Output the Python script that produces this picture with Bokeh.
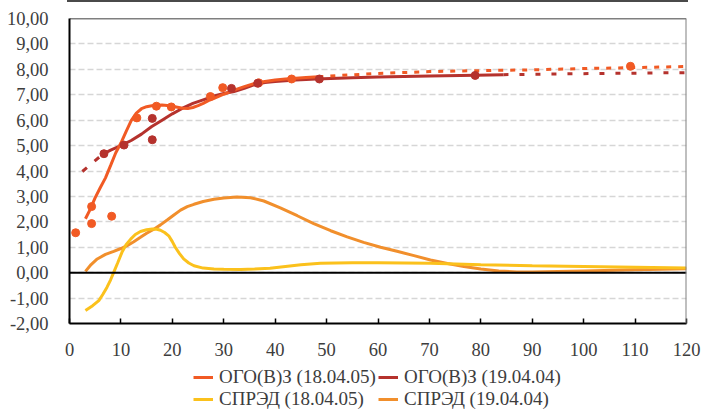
from bokeh.plotting import figure
from bokeh.models import (Span, Legend, LegendItem, FixedTicker, Div, Range1d)
from bokeh.layouts import column
from bokeh.embed import file_html
from bokeh.resources import INLINE

# ---------------- data ----------------
series_names = ["ОГО(В)З (18.04.05)", "ОГО(В)З (19.04.04)", "СПРЭД (18.04.05)", "СПРЭД (19.04.04)"]

# ОГО(В)З (18.04.05): observed points
ogo05_pts_x = [1.2, 4.3, 4.3, 8.2, 13.1, 16.9, 19.8, 27.4, 29.8, 36.8, 43.2, 109.1]
ogo05_pts_y = [1.57, 1.93, 2.6, 2.22, 6.09, 6.55, 6.52, 6.93, 7.28, 7.47, 7.62, 8.12]
# fitted curve (solid part)
ogo05_fit_x = [3.1, 4, 5, 6, 7, 8, 9, 10, 11, 12, 13, 14, 15, 16, 17, 18, 19, 20, 21, 22,
               23, 24, 25, 26, 27, 28, 30, 32, 34, 36, 38, 40, 42, 44, 46, 48.4]
ogo05_fit_y = [2.12, 2.48, 2.95, 3.35, 3.73, 4.22, 4.72, 5.1, 5.55, 5.98, 6.28, 6.45, 6.53,
               6.57, 6.59, 6.6, 6.58, 6.55, 6.51, 6.47, 6.46, 6.5, 6.57, 6.66, 6.77, 6.85,
               7.02, 7.18, 7.32, 7.45, 7.52, 7.58, 7.62, 7.65, 7.68, 7.71]
# extrapolated (dotted part)
ogo05_ext_x = [48.4, 50, 60, 70, 80, 90, 100, 110, 120]
ogo05_ext_y = [7.71, 7.73, 7.84, 7.91, 7.95, 7.98, 8.03, 8.07, 8.11]

# ОГО(В)З (19.04.04)
ogo04_pts_x = [6.7, 10.6, 16.1, 16.1, 31.5, 36.6, 48.6, 78.9]
ogo04_pts_y = [4.68, 5.02, 6.07, 5.23, 7.25, 7.45, 7.62, 7.76]
ogo04_start_x = [2.5, 6.4]
ogo04_start_y = [3.98, 4.65]
ogo04_fit_x = [6.4, 8, 10, 12, 14, 16, 18, 20, 22, 24, 26, 28, 30, 32, 34, 36, 38, 40, 44,
               48, 55, 60, 70, 79, 84.4]
ogo04_fit_y = [4.65, 4.82, 5.0, 5.2, 5.45, 5.75, 6.0, 6.25, 6.47, 6.66, 6.8, 6.94, 7.05,
               7.13, 7.25, 7.4, 7.48, 7.52, 7.58, 7.62, 7.67, 7.7, 7.74, 7.77, 7.79]
ogo04_ext_x = [84.4, 100, 120]
ogo04_ext_y = [7.79, 7.83, 7.87]

# СПРЭД (18.04.05)
spr05_x = [3.1, 4.5, 5.7, 6.5, 7.3, 8.0, 8.6, 9.4, 10.2, 11, 11.9, 12.8, 13.8, 15, 16.1, 17,
           17.7, 18.5, 19.3, 20, 20.6, 21.4, 22.2, 23.2, 24.2, 26, 28.1, 30, 33.3, 36, 39,
           42, 45, 48.8, 55, 60, 70.2, 80, 90, 100, 110, 120]
spr05_y = [-1.49, -1.3, -1.1, -0.85, -0.57, -0.28, 0.01, 0.4, 0.8, 1.1, 1.32, 1.5, 1.62,
           1.69, 1.72, 1.71, 1.67, 1.58, 1.45, 1.22, 0.99, 0.75, 0.54, 0.38, 0.27, 0.18,
           0.14, 0.13, 0.12, 0.14, 0.17, 0.24, 0.31, 0.37, 0.39, 0.39, 0.37, 0.31, 0.27,
           0.24, 0.21, 0.18]

# СПРЭД (19.04.04)
spr04_x = [3.1, 4.2, 5.4, 7, 8.6, 10, 11.2, 12.5, 13.8, 15, 16.4, 17.7, 19, 20.3, 21.6, 22.9,
           24.2, 26, 28.1, 30, 32.6, 35.2, 37.8, 41, 44.3, 47.5, 50.8, 54, 57.2, 60.5, 63.7,
           67, 70.2, 73.5, 76.7, 80, 83.5, 87, 90, 95, 100, 110, 120]
spr04_y = [0.05, 0.32, 0.54, 0.72, 0.84, 0.95, 1.06, 1.22, 1.39, 1.55, 1.71, 1.88, 2.07,
           2.27, 2.46, 2.6, 2.69, 2.8, 2.89, 2.94, 2.98, 2.95, 2.82, 2.55, 2.24, 1.93, 1.65,
           1.41, 1.19, 1.0, 0.84, 0.67, 0.5, 0.36, 0.24, 0.14, 0.07, 0.03, 0.03, 0.05, 0.07,
           0.11, 0.15]

x_ticks = list(range(0, 121, 10))
y_ticks = list(range(-2, 11))
y_tick_labels = ["-2,00", "-1,00", "0,00", "1,00", "2,00", "3,00", "4,00", "5,00",
                 "6,00", "7,00", "8,00", "9,00", "10,00"]

# ---------------- styling ----------------
C_OGO05 = "#F15A24"
C_OGO04 = "#B5322D"
C_SPR05 = "#FBC11C"
C_SPR04 = "#F18F2C"
FONT = "Liberation Serif"
TXT = "#3d3d3d"
LW = 3

p = figure(width=701, height=363, output_backend="svg", toolbar_location=None,
           x_range=Range1d(0, 120), y_range=Range1d(-2, 10),
           min_border_left=69, min_border_right=15, min_border_top=16,
           min_border_bottom=42)
p.outline_line_color = None
p.background_fill_color = "white"

p.xgrid.grid_line_color = None
p.ygrid.ticker = FixedTicker(ticks=y_ticks)
p.ygrid.grid_line_color = "#d6d6d6"
p.ygrid.grid_line_dash = "6 3"
p.ygrid.grid_line_width = 1.5

p.xaxis.ticker = FixedTicker(ticks=x_ticks)
p.yaxis.ticker = FixedTicker(ticks=y_ticks)
p.yaxis.major_label_overrides = {t: l for t, l in zip(y_ticks, y_tick_labels)}
for ax in (p.xaxis[0], p.yaxis[0]):
    ax.axis_line_color = "black"
    ax.axis_line_width = 2
    ax.minor_tick_line_color = None
    ax.major_label_text_font = FONT
    ax.major_label_text_font_size = "18.5px"
    ax.major_label_text_color = TXT
p.xaxis.major_tick_in = 5
p.xaxis.major_tick_out = 0
p.xaxis.major_tick_line_color = "black"
p.xaxis.major_tick_line_width = 1.5
p.xaxis.major_label_standoff = 19
p.yaxis.major_tick_line_color = None
p.yaxis.major_label_standoff = 15

# borders and zero line
p.add_layout(Span(location=0, dimension="width", line_color="black", line_width=2))
p.add_layout(Span(location=10, dimension="width", line_color="black", line_width=1.5))
p.add_layout(Span(location=120, dimension="height", line_color="#808080", line_width=2))

p.line(spr04_x, spr04_y, line_color=C_SPR04, line_width=LW)
p.line(spr05_x, spr05_y, line_color=C_SPR05, line_width=LW)

p.line(ogo04_fit_x, ogo04_fit_y, line_color=C_OGO04, line_width=LW)
p.line(ogo04_start_x, ogo04_start_y, line_color=C_OGO04, line_width=LW, line_dash="6 10")
p.line(ogo04_ext_x, ogo04_ext_y, line_color=C_OGO04, line_width=LW, line_dash="5 11")

p.line(ogo05_fit_x, ogo05_fit_y, line_color=C_OGO05, line_width=LW)
p.line(ogo05_ext_x, ogo05_ext_y, line_color=C_OGO05, line_width=LW, line_dash="5 7")

p.scatter(ogo05_pts_x, ogo05_pts_y, size=8, fill_color=C_OGO05, line_color=C_OGO05)
p.scatter(ogo04_pts_x, ogo04_pts_y, size=8, fill_color=C_OGO04, line_color=C_OGO04)

# ---------------- legend panel (separate canvas below the chart) ----------------
# The same series are drawn here (they fall outside this panel's 0..1 ranges, so
# only their legend swatches are visible).
lf = figure(width=701, height=47, output_backend="svg", toolbar_location=None,
            x_range=Range1d(0, 1), y_range=Range1d(0, 1),
            x_axis_location=None, y_axis_location=None,
            min_border_left=0, min_border_right=0, min_border_top=0, min_border_bottom=0)
lf.grid.visible = False
lf.outline_line_color = None

icons = [
    lf.line(ogo05_fit_x, ogo05_fit_y, line_color=C_OGO05, line_width=LW),
    lf.line(ogo04_fit_x, ogo04_fit_y, line_color=C_OGO04, line_width=LW),
    lf.line(spr05_x, spr05_y, line_color=C_SPR05, line_width=LW),
    lf.line(spr04_x, spr04_y, line_color=C_SPR04, line_width=LW),
]

rows = [([series_names[0], series_names[1]], [icons[0], icons[1]], (124, 24)),
        ([series_names[2], series_names[3]], [icons[2], icons[3]], (124, 2))]
for names, rends, loc in rows:
    lg = Legend(items=[LegendItem(label=n, renderers=[r]) for n, r in zip(names, rends)],
                orientation="horizontal", location=loc,
                padding=0, margin=0, spacing=1, border_line_alpha=0,
                background_fill_alpha=0,
                glyph_width=20, glyph_height=18, label_height=18, label_width=158,
                label_standoff=6,
                label_text_font=FONT, label_text_font_size="19px",
                label_text_color=TXT)
    lf.add_layout(lg, "center")

top_bar = Div(text="", width=621, height=2, margin=(0, 0, 0, 67),
              styles={"background-color": "#4a4a4a"})

layout = column(top_bar, p, lf, spacing=0)
open("out.html", "w").write(file_html(layout, INLINE))
